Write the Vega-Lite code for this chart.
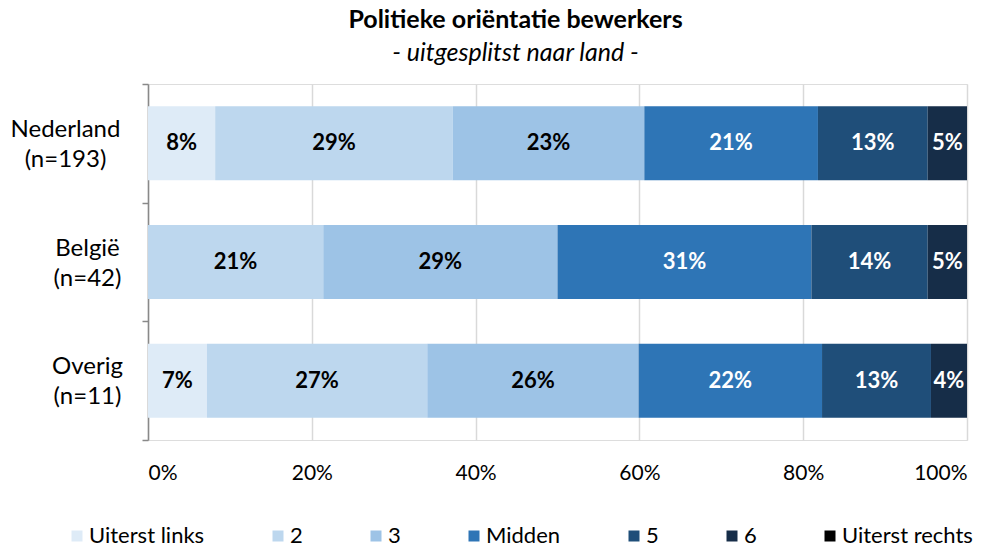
{
  "$schema": "https://vega.github.io/schema/vega-lite/v6.json",
  "width": 819,
  "height": 356,
  "autosize": {"type": "none"},
  "padding": {"left": 148, "top": 84, "right": 29, "bottom": 110},
  "background": "white",
  "title": {
    "text": "Politieke oriëntatie bewerkers",
    "subtitle": "- uitgesplitst naar land -",
    "font": "Lato",
    "fontSize": 25,
    "fontWeight": "bold",
    "color": "black",
    "subtitleFont": "Lato",
    "subtitleFontSize": 25,
    "subtitleFontStyle": "italic",
    "subtitleColor": "black",
    "subtitlePadding": 8,
    "anchor": "middle",
    "frame": "group",
    "dx": -42,
    "offset": 6
  },
  "data": {
    "values": [
      {"land": "Nederland|(n=193)", "cat": "Uiterst links", "o": 1, "v": 0.082},
      {"land": "Nederland|(n=193)", "cat": "2", "o": 2, "v": 0.290},
      {"land": "Nederland|(n=193)", "cat": "3", "o": 3, "v": 0.234},
      {"land": "Nederland|(n=193)", "cat": "Midden", "o": 4, "v": 0.212},
      {"land": "Nederland|(n=193)", "cat": "5", "o": 5, "v": 0.134},
      {"land": "Nederland|(n=193)", "cat": "6", "o": 6, "v": 0.048},
      {"land": "België|(n=42)", "cat": "2", "o": 2, "v": 0.214},
      {"land": "België|(n=42)", "cat": "3", "o": 3, "v": 0.286},
      {"land": "België|(n=42)", "cat": "Midden", "o": 4, "v": 0.310},
      {"land": "België|(n=42)", "cat": "5", "o": 5, "v": 0.142},
      {"land": "België|(n=42)", "cat": "6", "o": 6, "v": 0.048},
      {"land": "Overig|(n=11)", "cat": "Uiterst links", "o": 1, "v": 0.072},
      {"land": "Overig|(n=11)", "cat": "2", "o": 2, "v": 0.269},
      {"land": "Overig|(n=11)", "cat": "3", "o": 3, "v": 0.258},
      {"land": "Overig|(n=11)", "cat": "Midden", "o": 4, "v": 0.224},
      {"land": "Overig|(n=11)", "cat": "5", "o": 5, "v": 0.133},
      {"land": "Overig|(n=11)", "cat": "6", "o": 6, "v": 0.044}
    ]
  },
  "transform": [
    {"stack": "v", "groupby": ["land"], "sort": [{"field": "o", "order": "ascending"}], "as": ["x0", "x1"]},
    {"calculate": "(datum.x0 + datum.x1) / 2", "as": "mid"}
  ],
  "encoding": {
    "y": {
      "field": "land",
      "type": "nominal",
      "sort": ["Nederland|(n=193)", "België|(n=42)", "Overig|(n=11)"],
      "scale": {"paddingInner": 0, "paddingOuter": 0},
      "axis": {
        "title": null,
        "labelExpr": "split(datum.label, '|')",
        "labelFont": "Lato",
        "labelFontSize": 24,
        "labelColor": "black",
        "labelLineHeight": 30,
        "labelAlign": "center",
        "labelBaseline": "middle",
        "labelOffset": -14,
        "labelPadding": {"condition": {"test": "datum.value == 'Nederland|(n=193)'", "value": 77}, "value": 55},
        "tickBand": "extent",
        "tickSize": 6,
        "tickColor": "#898989",
        "tickWidth": 1.5,
        "domainColor": "#898989",
        "domainWidth": 1.5,
        "grid": false
      }
    }
  },
  "layer": [
    {
      "mark": {"type": "bar", "height": {"band": 0.624}},
      "encoding": {
        "x": {
          "field": "x0",
          "type": "quantitative",
          "scale": {"domain": [0, 1], "nice": false},
          "axis": {
            "title": null,
            "values": [0, 0.2, 0.4, 0.6, 0.8, 1],
            "format": ".0%",
            "labelFont": "Lato",
            "labelFontSize": 21,
            "labelColor": "black",
            "labelPadding": 22,
            "domain": false,
            "ticks": false,
            "grid": true,
            "gridColor": "#d9d9d9",
            "gridWidth": 1.5
          }
        },
        "x2": {"field": "x1"},
        "color": {
          "field": "cat",
          "type": "nominal",
          "scale": {
            "domain": ["Uiterst links", "2", "3", "Midden", "5", "6", "Uiterst rechts"],
            "range": ["#deebf7", "#bdd7ee", "#9dc3e6", "#2e75b6", "#1f4e79", "#162d48", "#000000"]
          },
          "legend": {
            "title": null,
            "orient": "none",
            "legendX": -82,
            "legendY": 441,
            "direction": "horizontal",
            "columns": 7,
            "columnPadding": 62,
            "symbolType": "square",
            "symbolSize": 121,
            "symbolStrokeWidth": 0,
            "labelFont": "Lato",
            "labelFontSize": 22,
            "labelColor": "black",
            "labelOffset": 1
          }
        }
      }
    },
    {
      "mark": {"type": "text", "font": "Lato", "fontSize": 22, "fontWeight": "bold", "baseline": "middle", "align": "center"},
      "encoding": {
        "x": {"field": "mid", "type": "quantitative"},
        "text": {"field": "v", "type": "quantitative", "format": ".0%"},
        "color": {
          "condition": {"test": "datum.o >= 4", "value": "white"},
          "value": "black"
        }
      }
    }
  ]
}
